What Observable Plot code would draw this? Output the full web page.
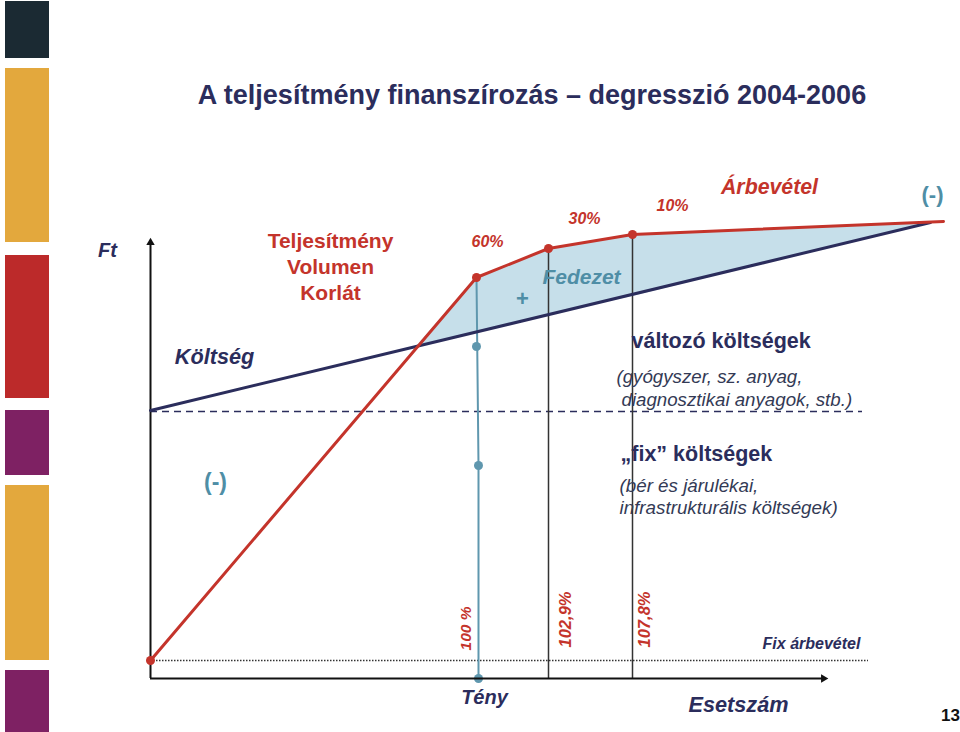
<!DOCTYPE html>
<html>
<head>
<meta charset="utf-8">
<script src="https://cdn.jsdelivr.net/npm/d3@7"></script>
<script src="https://cdn.jsdelivr.net/npm/@observablehq/plot@0.6"></script>
<style>
  html, body { margin: 0; padding: 0; background: #fff; }
  #page { position: relative; width: 960px; height: 732px; overflow: hidden; font-family: "Liberation Sans", Arial, sans-serif; }
  .band { position: absolute; left: 5px; width: 44px; }
  #title { position: absolute; left: 0; top: 80px; width: 1064px; text-align: center; font-weight: bold; font-size: 27px; color: #2b2d5c; white-space: nowrap; }
  #chart { position: absolute; left: 0; top: 0; }
</style>
</head>
<body>
<div id="page">
  <div id="bands"></div>
  <div id="title">A teljesítmény finanszírozás – degresszió 2004-2006</div>
  <div id="chart"></div>
</div>
<script>
// ---- Sidebar bands (slide decoration) ----
const bandTops    = [1, 68, 255, 410, 485, 670];
const bandBottoms = [58, 242, 398, 475, 660, 732];
const bandColors  = ["#1b2a33", "#e3a83d", "#bc2a2a", "#7e2163", "#e3a83d", "#7e2163"];

// ---- Schematic data (x = Esetszám units, y = Ft units) ----
// Revenue (Árbevétel) broken line
const revX = [0, 326, 398, 482, 793];
const revY = [18, 401, 430, 444, 457];
// Cost (Költség) straight line
const costX = [0, 780];
const costY = [268, 456];
// Fedezet area between cost and revenue
const areaX  = [266, 326, 398, 482, 780];
const areaLo = [332, 345, 364, 382, 456];
const areaHi = [332, 401, 430, 444, 456];
// Threshold verticals
const vX    = [398, 482];
const vTop  = [430, 444];
const vLabels = ["102,9%", "107,8%"];
// Tény vertical
const tenyX = [326, 328, 328];
const tenyY = [401, 213, 0];
const tenyDotY = [332, 213, 0];
const tenyDotX = [326, 328, 328];
// Reference lines
const fixCostLevel = 267;   // dashed
const fixRevLevel = 18;     // dotted
const axisXmax = 678, axisYmax = 441;

const revenue = revX.map((x, i) => ({x, y: revY[i]}));
const cost = costX.map((x, i) => ({x, y: costY[i]}));
const area = areaX.map((x, i) => ({x, lo: areaLo[i], hi: areaHi[i]}));
const verts = vX.map((x, i) => ({x, top: vTop[i], label: vLabels[i]}));
const teny = tenyX.map((x, i) => ({x, y: tenyY[i]}));
const tenyDots = tenyDotX.map((x, i) => ({x, y: tenyDotY[i]}));

const RED = "#c4342b", NAVY = "#2b2d5c", TEAL = "#5f97ae", TEALT = "#4f8ea6", SUB = "#333a55";
const FONT = "Liberation Sans, Arial, sans-serif";

// bands
const bandsEl = document.getElementById("bands");
bandTops.forEach((t, i) => {
  const d = document.createElement("div");
  d.className = "band";
  d.style.top = t + "px";
  d.style.height = (bandBottoms[i] - t) + "px";
  d.style.background = bandColors[i];
  bandsEl.appendChild(d);
});

const txt = (x, y, text, o) => Plot.text([{x, y, text}], {x: "x", y: "y", text: "text", fontFamily: FONT, ...o});

const chart = Plot.plot({
  width: 960,
  height: 732,
  margin: 0,
  style: {background: "transparent", overflow: "visible"},
  x: {domain: [0, 810], range: [150, 960], axis: null},
  y: {domain: [0, 678], range: [678, 0], axis: null},
  marks: [
    Plot.areaY(area, {x: "x", y1: "lo", y2: "hi", fill: "#c6dfea", curve: "linear"}),
    // dashed fixed cost level
    Plot.ruleY([fixCostLevel], {x1: 0, x2: 712, stroke: NAVY, strokeWidth: 1.5, strokeDasharray: "7,5"}),
    // dotted fixed revenue level
    Plot.ruleY([fixRevLevel], {x1: 0, x2: 718, stroke: "#333", strokeWidth: 1.5, strokeDasharray: "1.5,1.5"}),
    // threshold verticals
    Plot.ruleX(verts, {x: "x", y1: 0, y2: "top", stroke: "#333", strokeWidth: 1.5}),
    // Tény vertical
    Plot.line(teny, {x: "x", y: "y", stroke: TEAL, strokeWidth: 2}),
    Plot.dot(tenyDots, {x: "x", y: "y", r: 4.5, fill: TEAL, stroke: "none"}),
    // axes
    Plot.ruleX([0], {y1: 0, y2: axisYmax - 4, stroke: "#111", strokeWidth: 2}),
    Plot.ruleY([0], {x1: 0, x2: axisXmax - 4, stroke: "#111", strokeWidth: 2}),
    Plot.dot([{x: 0, y: axisYmax - 5}], {x: "x", y: "y", symbol: "triangle2", r: 4, fill: "#111", stroke: "none"}),
    Plot.dot([{x: axisXmax - 5, y: 0}], {x: "x", y: "y", symbol: "triangle2", r: 4, fill: "#111", stroke: "none", rotate: 90}),
    // cost line
    Plot.line(cost, {x: "x", y: "y", stroke: NAVY, strokeWidth: 3}),
    // revenue line
    Plot.line(revenue, {x: "x", y: "y", stroke: RED, strokeWidth: 3}),
    Plot.dot(revenue.slice(0, 4), {x: "x", y: "y", r: 4.5, fill: RED, stroke: "none"}),
    // labels
    txt(-43, 428, "Ft", {fontSize: 20, fontWeight: "bold", fontStyle: "italic", fill: NAVY}),
    txt(180, 413, "Teljesítmény\nVolumen\nKorlát", {fontSize: 21, fontWeight: "bold", fill: RED, lineHeight: 1.24}),
    txt(337, 437, "60%", {fontSize: 16, fontWeight: "bold", fontStyle: "italic", fill: RED}),
    txt(434, 460, "30%", {fontSize: 16, fontWeight: "bold", fontStyle: "italic", fill: RED}),
    txt(522, 473, "10%", {fontSize: 16, fontWeight: "bold", fontStyle: "italic", fill: RED}),
    txt(619, 491, "Árbevétel", {fontSize: 21.3, fontWeight: "bold", fontStyle: "italic", fill: RED}),
    txt(782, 484, "(-)", {fontSize: 22, fontWeight: "bold", fill: TEALT}),
    txt(431, 401, "Fedezet", {fontSize: 21, fontWeight: "bold", fontStyle: "italic", fill: TEALT}),
    txt(372, 380, "+", {fontSize: 22, fontWeight: "bold", fill: TEALT}),
    txt(64, 321, "Költség", {fontSize: 21.7, fontWeight: "bold", fontStyle: "italic", fill: NAVY}),
    txt(481, 337, "változó költségek", {fontSize: 21.5, fontWeight: "bold", fill: NAVY, textAnchor: "start"}),
    txt(466, 301, "(gyógyszer, sz. anyag,", {fontSize: 18.7, fontStyle: "italic", fill: SUB, textAnchor: "start"}),
    txt(471, 278, "diagnosztikai anyagok, stb.)", {fontSize: 18.7, fontStyle: "italic", fill: SUB, textAnchor: "start"}),
    txt(65, 196, "(-)", {fontSize: 23, fontWeight: "bold", fill: TEALT}),
    txt(470, 224, "„fix” költségek", {fontSize: 21.5, fontWeight: "bold", fill: NAVY, textAnchor: "start"}),
    txt(469, 193, "(bér és járulékai,", {fontSize: 18.8, fontStyle: "italic", fill: SUB, textAnchor: "start"}),
    txt(469, 171, "infrastrukturális költségek)", {fontSize: 18.8, fontStyle: "italic", fill: SUB, textAnchor: "start"}),
    txt(316, 50, "100 %", {fontSize: 15.5, fontWeight: "bold", fontStyle: "italic", fill: RED, rotate: -90}),
    txt(415, 59, vLabels[0], {fontSize: 16.5, fontWeight: "bold", fontStyle: "italic", fill: RED, rotate: -90}),
    txt(494, 59, vLabels[1], {fontSize: 16.5, fontWeight: "bold", fontStyle: "italic", fill: RED, rotate: -90}),
    txt(661, 35, "Fix árbevétel", {fontSize: 16, fontWeight: "bold", fontStyle: "italic", fill: NAVY}),
    txt(334, -19, "Tény", {fontSize: 20, fontWeight: "bold", fontStyle: "italic", fill: NAVY}),
    txt(588, -27, "Esetszám", {fontSize: 21.7, fontWeight: "bold", fontStyle: "italic", fill: NAVY}),
    txt(800, -37, "13", {fontSize: 17, fontWeight: "bold", fill: "#111"})
  ]
});
document.getElementById("chart").appendChild(chart);
</script>
</body>
</html>
